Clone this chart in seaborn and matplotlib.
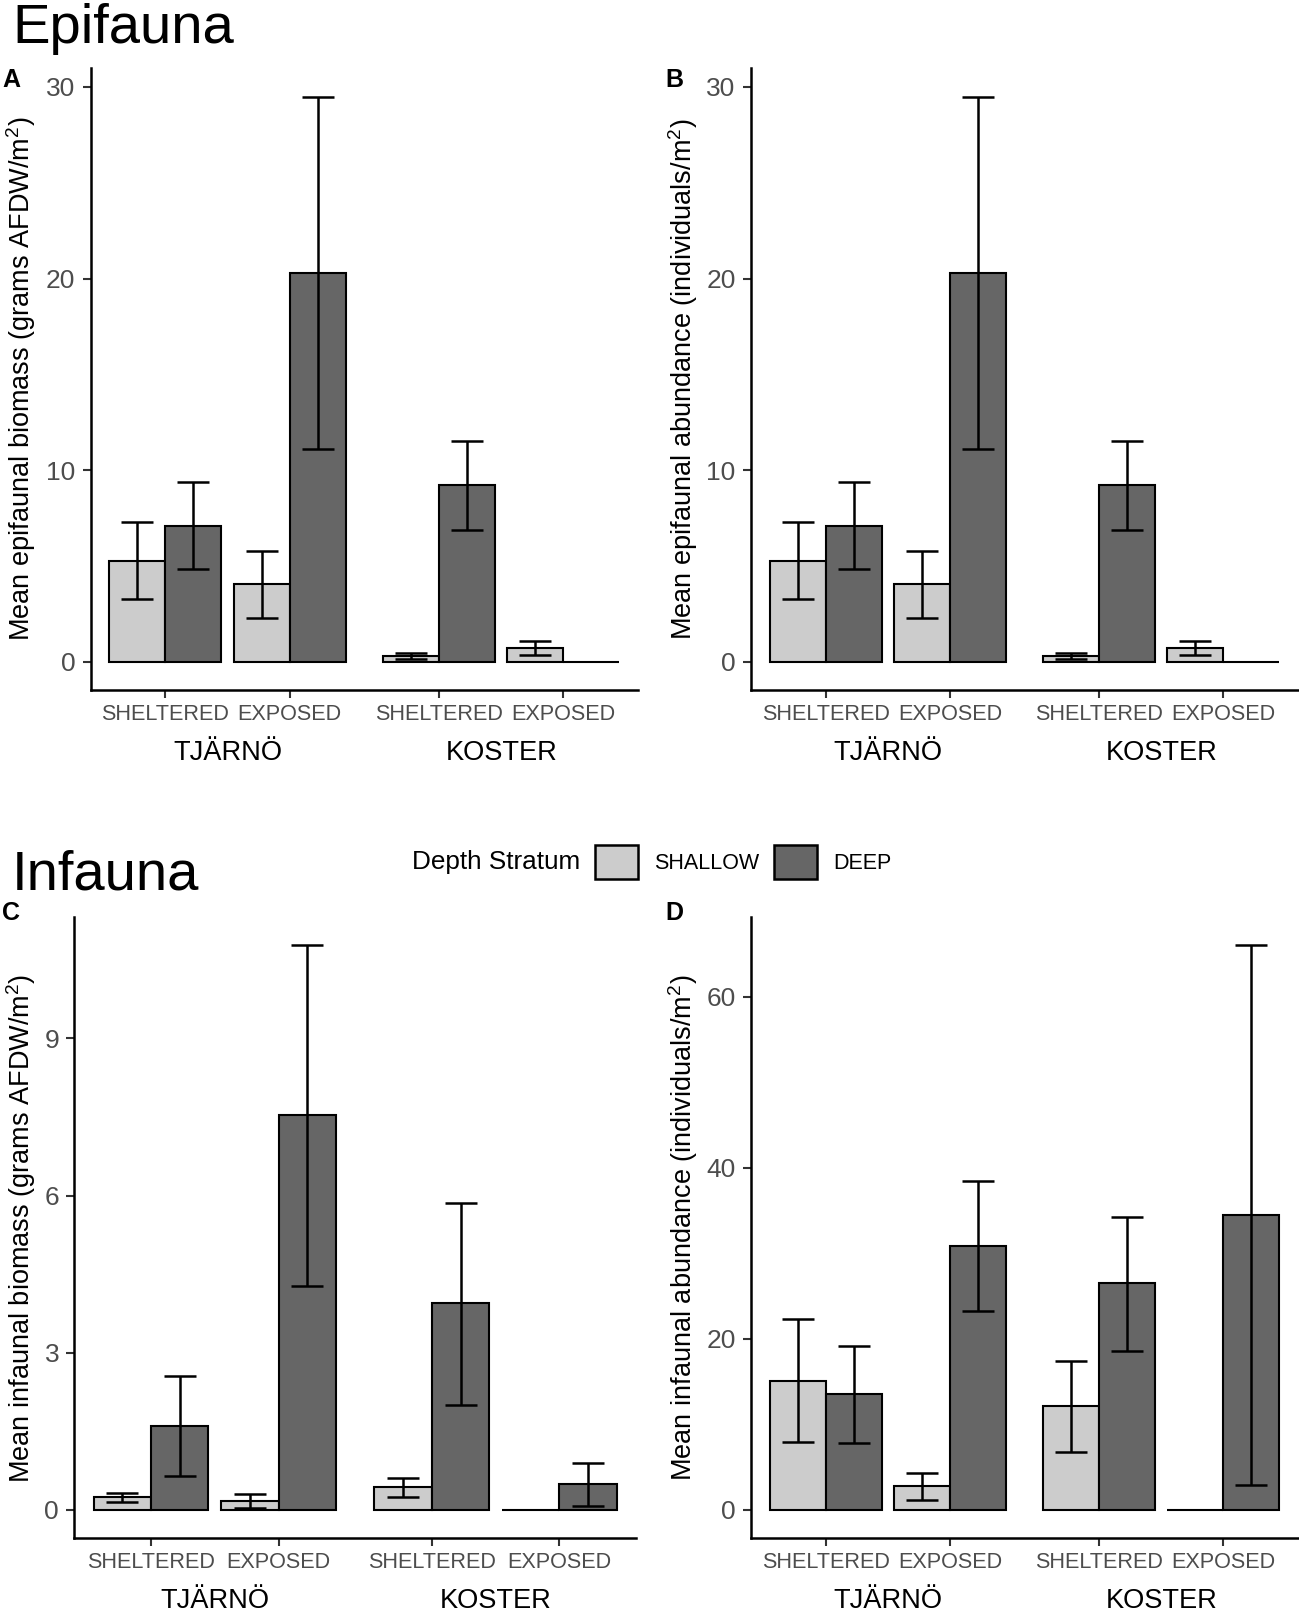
#Epifauna and infauna biomass / abundance by site, exposure and depth stratum
import numpy as np
import pandas as pd
import matplotlib
matplotlib.use('Agg')
import matplotlib.pyplot as plt
from matplotlib.patches import Patch
import seaborn as sns

sns.set_style('ticks')
plt.rcParams['font.family'] = ['Liberation Sans', 'DejaVu Sans']
plt.rcParams['text.color'] = 'black'
plt.rcParams['mathtext.fontset'] = 'custom'
plt.rcParams['mathtext.rm'] = 'Liberation Sans'
plt.rcParams['mathtext.it'] = 'Liberation Sans:italic'

sites = ['TJÄRNÖ', 'KOSTER']
exposure = ['SHELTERED', 'EXPOSED']
depth = ['SHALLOW', 'DEEP']
#order inside every list: Tjarno sheltered, Tjarno exposed, Koster sheltered, Koster exposed

#A - epifaunal biomass
epi_bio_shallow = [5.28, 4.05, 0.30, 0.72]
epi_bio_shallow_lo = [3.3, 2.3, 0.12, 0.35]
epi_bio_shallow_hi = [7.3, 5.8, 0.45, 1.1]
epi_bio_deep = [7.08, 20.3, 9.2, 0.0]
epi_bio_deep_lo = [4.84, 11.1, 6.9, np.nan]
epi_bio_deep_hi = [9.36, 29.5, 11.5, np.nan]

#B - epifaunal abundance
epi_abu_shallow = [5.28, 4.05, 0.30, 0.72]
epi_abu_shallow_lo = [3.3, 2.3, 0.12, 0.35]
epi_abu_shallow_hi = [7.3, 5.8, 0.45, 1.1]
epi_abu_deep = [7.08, 20.3, 9.2, 0.0]
epi_abu_deep_lo = [4.84, 11.1, 6.9, np.nan]
epi_abu_deep_hi = [9.36, 29.5, 11.5, np.nan]

#C - infaunal biomass
inf_bio_shallow = [0.24, 0.16, 0.43, 0.0]
inf_bio_shallow_lo = [0.14, 0.03, 0.25, np.nan]
inf_bio_shallow_hi = [0.32, 0.30, 0.60, np.nan]
inf_bio_deep = [1.6, 7.53, 3.94, 0.49]
inf_bio_deep_lo = [0.65, 4.27, 2.0, 0.08]
inf_bio_deep_hi = [2.55, 10.78, 5.86, 0.90]

#D - infaunal abundance
inf_abu_shallow = [15.1, 2.75, 12.1, 0.0]
inf_abu_shallow_lo = [7.9, 1.2, 6.8, np.nan]
inf_abu_shallow_hi = [22.3, 4.3, 17.4, np.nan]
inf_abu_deep = [13.5, 30.8, 26.5, 34.5]
inf_abu_deep_lo = [7.8, 23.2, 18.6, 2.9]
inf_abu_deep_hi = [19.2, 38.4, 34.2, 66.0]

colors = {'SHALLOW': '#CCCCCC', 'DEEP': '#666666'}
W, H = 1299, 1612
fig = plt.figure(figsize=(W / 100, H / 100), dpi=100)


def px_axes(left, right, top, bottom):
    return fig.add_axes([left / W, 1 - bottom / H, (right - left) / W, (bottom - top) / H])


def draw_panel(ax, shallow, s_lo, s_hi, deep, d_lo, d_hi, yticks):
    pos = [1 + j + 2.2 * i for i in range(2) for j in range(2)]
    df = pd.DataFrame({'pos': pos * 2,
                       'depth': ['SHALLOW'] * 4 + ['DEEP'] * 4,
                       'mean': shallow + deep})
    sns.barplot(data=df, x='pos', y='mean', hue='depth', hue_order=depth,
                native_scale=True, width=0.9, palette=colors, edgecolor='black',
                linewidth=1.5, errorbar=None, legend=False, ax=ax)
    for off, m, lo, hi in [(-0.225, shallow, s_lo, s_hi), (0.225, deep, d_lo, d_hi)]:
        m = np.array(m); lo = np.array(lo); hi = np.array(hi)
        ok = ~np.isnan(lo)
        ax.errorbar(np.array(pos)[ok] + off, m[ok], yerr=[m[ok] - lo[ok], hi[ok] - m[ok]],
                    fmt='none', ecolor='black', elinewidth=1.8, capsize=11.2, capthick=1.8, zorder=4)
    top = np.nanmax(np.concatenate([s_hi, d_hi, shallow, deep]))
    ax.set_ylim(-0.05 * top, 1.05 * top)
    ax.set_xlim(0.4, 4.8)
    ax.set_yticks(yticks)
    ax.set_yticklabels([str(t) for t in yticks])
    ax.set_xticks(pos)
    ax.set_xticklabels(exposure * 2)
    ax.set_xlabel('')
    ax.set_ylabel('')
    ax.tick_params(axis='y', labelsize=19, labelcolor='#4D4D4D', length=6, width=1.5, pad=5, color='#333333')
    ax.tick_params(axis='x', labelsize=15.6, labelcolor='#4D4D4D', length=6, width=1.5, pad=4, color='#333333')
    for s in ['left', 'bottom']:
        ax.spines[s].set_linewidth(1.8)
        ax.spines[s].set_color('black')
    sns.despine(ax=ax)
    for i, site in enumerate(sites):
        ax.annotate(site, xy=(1.5 + 2.2 * i, 0), xycoords=('data', 'axes fraction'),
                    xytext=(0, -45.4), textcoords='offset points', ha='center', va='center',
                    fontsize=19.6, color='black')


axA = px_axes(90.5, 638, 68.3, 690)
axB = px_axes(751, 1298, 68.3, 690)
axC = px_axes(74.4, 636, 917, 1538)
axD = px_axes(751, 1298, 917, 1538)

draw_panel(axA, epi_bio_shallow, epi_bio_shallow_lo, epi_bio_shallow_hi,
           epi_bio_deep, epi_bio_deep_lo, epi_bio_deep_hi, [0, 10, 20, 30])
draw_panel(axB, epi_abu_shallow, epi_abu_shallow_lo, epi_abu_shallow_hi,
           epi_abu_deep, epi_abu_deep_lo, epi_abu_deep_hi, [0, 10, 20, 30])
draw_panel(axC, inf_bio_shallow, inf_bio_shallow_lo, inf_bio_shallow_hi,
           inf_bio_deep, inf_bio_deep_lo, inf_bio_deep_hi, [0, 3, 6, 9])
draw_panel(axD, inf_abu_shallow, inf_abu_shallow_lo, inf_abu_shallow_hi,
           inf_abu_deep, inf_abu_deep_lo, inf_abu_deep_hi, [0, 20, 40, 60])

#y labels
ylab_size = 19.5
fig.text(21 / W, 1 - 379 / H, r'Mean epifaunal biomass (grams AFDW/m$^2$)', rotation=90, ha='center', va='center', fontsize=ylab_size)
fig.text(683 / W, 1 - 379 / H, r'Mean epifaunal abundance (individuals/m$^2$)', rotation=90, ha='center', va='center', fontsize=ylab_size)
fig.text(21 / W, 1 - 1228 / H, r'Mean infaunal biomass (grams AFDW/m$^2$)', rotation=90, ha='center', va='center', fontsize=ylab_size)
fig.text(683 / W, 1 - 1228 / H, r'Mean infaunal abundance (individuals/m$^2$)', rotation=90, ha='center', va='center', fontsize=ylab_size)

#titles and panel letters
fig.text(12 / W, 1 - 43 / H, 'Epifauna', fontsize=40.5, ha='left', va='baseline')
fig.text(12 / W, 1 - 889 / H, 'Infauna', fontsize=40.5, ha='left', va='baseline')
for letter, x, y in [('A', 2, 80), ('B', 665, 80), ('C', 2, 913), ('D', 665, 913)]:
    fig.text(x / W, 1 - y / H, letter, fontsize=18, fontweight='bold', ha='left', va='center')

#legend
fig.text(412 / W, 1 - 862 / H, 'Depth Stratum', fontsize=18.8, ha='left', va='center')
handles = [Patch(facecolor=colors[d], edgecolor='black', linewidth=1.8, label=d) for d in depth]
fig.legend(handles=handles, loc='center left', bbox_to_anchor=(595 / W, 1 - 862 / H), ncol=2,
           frameon=False, fontsize=15.5, handlelength=2.0, handleheight=2.0, handletextpad=0.75,
           columnspacing=0.7, borderpad=0, borderaxespad=0)

plt.savefig('out.png', dpi=100)
